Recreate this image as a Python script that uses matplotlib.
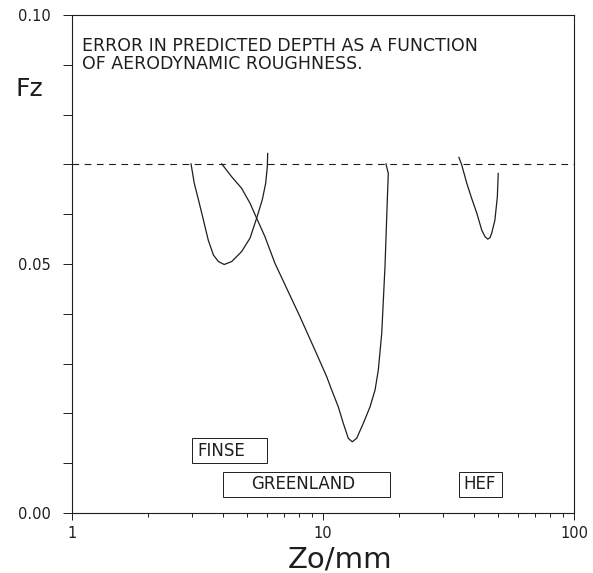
import numpy as np
import matplotlib
matplotlib.use('Agg')
import matplotlib.pyplot as plt
from matplotlib.patches import Rectangle
from matplotlib.ticker import FixedLocator, NullFormatter

# curves (Zo in mm, Fz)
finse_zo = [2.98, 3.07, 3.19, 3.34, 3.49, 3.66, 3.83, 4.04, 4.33, 4.74, 5.12, 5.44, 5.73,
            5.91, 6.00, 6.02]
finse_fz = [0.0701, 0.0662, 0.0629, 0.0588, 0.0548, 0.0518, 0.0505, 0.0499, 0.0505, 0.0525,
            0.0552, 0.0592, 0.0629, 0.0662, 0.0695, 0.0722]

green_zo = [3.95, 4.33, 4.74, 5.12, 5.44, 5.87, 6.44, 8.10, 9.29, 10.34, 10.83, 11.51, 12.05,
            12.61, 13.08, 13.62, 14.47, 15.39, 16.12, 16.61, 17.14, 17.66, 18.04, 18.20, 17.82]
green_fz = [0.0701, 0.0675, 0.0652, 0.0622, 0.0592, 0.0555, 0.0501, 0.0394, 0.0327, 0.0274,
            0.0247, 0.0213, 0.0180, 0.0150, 0.0143, 0.0150, 0.0180, 0.0213, 0.0247, 0.0287,
            0.0361, 0.0495, 0.0629, 0.0682, 0.0701]

hef_zo = [34.8, 35.7, 37.4, 39.1, 41.0, 42.9, 44.2, 45.3, 46.3, 47.0, 48.4, 49.5, 49.9]
hef_fz = [0.0714, 0.0699, 0.0662, 0.0632, 0.0602, 0.0568, 0.0555, 0.0550, 0.0553, 0.0562,
          0.0588, 0.0635, 0.0682]

threshold = 0.07

# label boxes: name, zo range, fz range, text position
box_names = ['FINSE', 'GREENLAND', 'HEF']
box_zo = [(3.0, 6.0), (4.0, 18.5), (34.8, 51.8)]
box_fz = [(0.010, 0.015), (0.0032, 0.0083), (0.0032, 0.0083)]
text_zo = [3.15, 8.3, 42.2]
text_ha = ['left', 'center', 'center']

ink = '#1e1e1e'
plt.rcParams['font.family'] = 'DejaVu Sans'

fig = plt.figure(figsize=(5.93, 5.73), dpi=100)
ax = fig.add_axes([72/593, 60/573, 502/593, 498/573])

ax.plot(finse_zo, finse_fz, color=ink, lw=0.9)
ax.plot(green_zo, green_fz, color=ink, lw=0.9)
ax.plot(hef_zo, hef_fz, color=ink, lw=0.9)
ax.axhline(threshold, color=ink, lw=0.8, linestyle=(0, (6, 5)))

for name, (x0, x1), (y0, y1), tx, ha in zip(box_names, box_zo, box_fz, text_zo, text_ha):
    ax.add_patch(Rectangle((x0, y0), x1 - x0, y1 - y0, fill=False, ec=ink, lw=0.7))
    ax.text(tx, (y0 + y1) / 2, name, ha=ha, va='center', fontsize=12, color=ink)

ax.set_xscale('log')
ax.set_xlim(1, 100)
ax.set_ylim(0, 0.10)
ax.xaxis.set_major_locator(FixedLocator([1, 10, 100]))
ax.xaxis.set_minor_locator(FixedLocator([2, 3, 4, 5, 6, 7, 8, 9, 20, 30, 40, 50, 60, 70, 80, 90]))
ax.xaxis.set_minor_formatter(NullFormatter())
ax.set_xticklabels(['1', '10', '100'])
ax.yaxis.set_major_locator(FixedLocator([0, 0.05, 0.10]))
ax.yaxis.set_minor_locator(FixedLocator([0.01, 0.02, 0.03, 0.04, 0.06, 0.07, 0.08, 0.09]))
ax.set_yticklabels(['0.00', '0.05', '0.10'])

ax.tick_params(axis='y', which='both', direction='out', length=6.5, width=0.7, color=ink,
               labelsize=10.5, pad=9, labelcolor=ink)
ax.tick_params(axis='x', which='major', direction='out', length=5, width=0.7, color=ink,
               labelsize=10.5, pad=4, labelcolor=ink)
ax.tick_params(axis='x', which='minor', direction='out', length=3, width=0.7, color=ink)
for s in ax.spines.values():
    s.set_linewidth(0.8)
    s.set_color(ink)

ax.text(0.02, 0.955, 'ERROR IN PREDICTED DEPTH AS A FUNCTION\nOF AERODYNAMIC ROUGHNESS.',
        transform=ax.transAxes, ha='left', va='top', fontsize=12.5, color=ink, linespacing=0.95)

fig.text(15/593, 1 - 89/573, 'Fz', ha='left', va='center', fontsize=18, color=ink)
fig.text(340/593, 1 - 568/573, 'Zo/mm', ha='center', va='baseline', fontsize=21, color=ink)

fig.savefig('out.png', dpi=100)
